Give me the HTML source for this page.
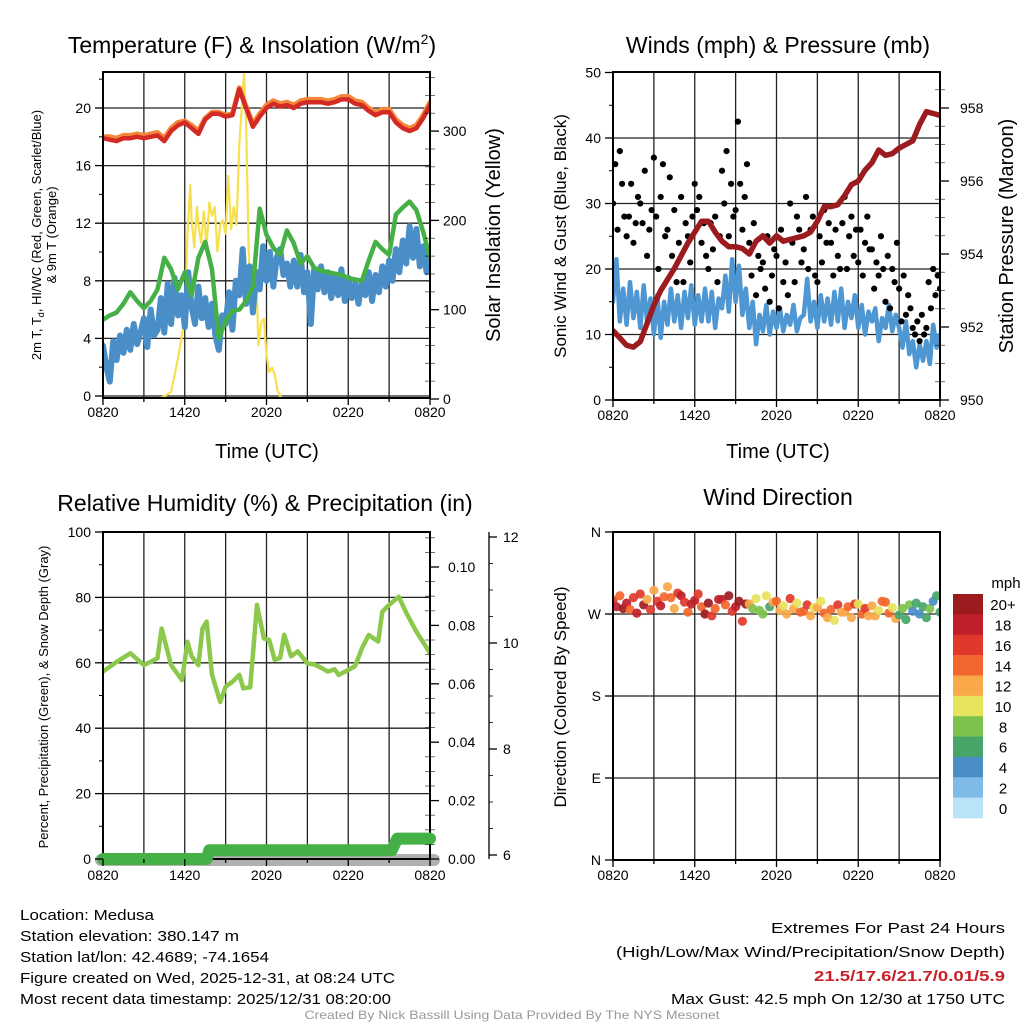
<!DOCTYPE html>
<html><head><meta charset="utf-8"><style>
html,body{margin:0;padding:0;background:#fff}
svg{display:block;font-family:"Liberation Sans",sans-serif}
</style></head><body>
<svg id="c" width="1024" height="1024" viewBox="0 0 1024 1024" xmlns="http://www.w3.org/2000/svg"></svg>
<script>
// ---------- data ----------
const xTickLabels = ["0820","1420","2020","0220","0820"];
// Panel 1 (30-min steps, hours 0..24)
const tempRed = [17.9,17.8,17.7,17.9,17.9,18.0,17.9,18.0,18.1,17.7,18.4,18.8,19.0,18.6,18.2,19.2,19.6,19.6,19.4,19.5,21.3,20.0,18.7,19.4,20.0,20.3,20.1,20.2,20.0,20.3,20.4,20.4,20.4,20.3,20.4,20.6,20.6,20.3,20.2,19.8,19.5,19.7,19.7,19.0,18.6,18.4,18.6,19.3,20.2];
const temp9m = [18.0,18.0,17.9,18.1,18.1,18.2,18.1,18.2,18.3,17.9,18.6,19.0,19.1,18.8,18.4,19.3,19.7,19.7,19.5,19.6,21.4,20.1,18.9,19.6,20.2,20.5,20.3,20.4,20.2,20.5,20.6,20.6,20.6,20.5,20.6,20.8,20.8,20.5,20.4,20.0,19.7,19.9,19.9,19.2,18.8,18.6,18.8,19.5,20.4];
const dewGreen = [5.3,5.6,5.8,6.4,7.2,6.6,6.1,6.6,7.4,9.6,8.8,7.4,8.6,7.0,9.6,10.7,8.8,4.0,5.2,5.9,6.0,6.6,7.6,13.0,11.2,10.3,9.8,11.5,10.6,9.2,9.7,8.9,8.7,8.6,8.5,8.4,8.2,8.1,8.0,9.4,10.7,10.2,9.8,12.6,13.1,13.5,12.9,11.4,9.6];
// 15-min steps
const windChill = [3.5,2.0,1.0,3.8, 2.5,4.2,3.0,4.6, 3.2,5.0,3.6,4.4, 5.4,3.4,6.0,4.2, 4.6,6.8,4.4,7.8, 5.0,8.2,5.6,7.0, 4.8,8.6,6.2,5.0, 7.6,5.4,6.8,4.8, 6.4,4.2,3.2,5.6, 5.0,7.2,4.6,8.0, 7.0,10.2,6.4,9.0, 5.8,8.6,7.4,10.4, 8.0,10.0,7.6,9.6, 10.2,8.4,9.2,7.6, 9.4,7.6,9.8,7.2, 8.6,5.0,8.8,7.4, 9.0,7.2,8.6,6.8, 8.4,7.0,8.8,6.6, 8.2,6.8,7.8,6.4, 8.0,7.0,8.6,6.6, 8.4,7.2,9.0,7.6, 9.4,8.0,10.2,8.6, 10.8,9.2,11.8,9.6, 11.6,9.0,10.4,8.6, 9.6];
const solarHours = [0,4,4.5,5,5.5,6,6.2,6.4,6.5,6.7,6.9,7,7.2,7.4,7.6,7.8,8,8.2,8.4,8.6,8.8,9,9.2,9.4,9.6,9.8,10,10.2,10.35,10.5,10.7,10.9,11,11.2,11.4,11.6,11.8,12,12.2,12.4,12.6,12.8,13,13.3,24];
const solarW = [0,0,3,8,45,90,185,240,200,170,215,195,175,210,170,220,205,215,165,195,200,185,250,190,215,195,285,330,365,310,160,95,105,175,60,85,90,50,30,35,28,10,3,0,0];
// Panel 2
const pressure = [951.9,951.7,951.5,951.45,951.6,952.1,952.6,953.0,953.3,953.6,953.95,954.3,954.6,954.9,954.9,954.6,954.35,954.2,954.2,954.15,954.0,954.35,954.5,954.3,954.5,954.35,954.4,954.45,954.5,954.6,954.9,955.3,955.3,955.35,955.6,955.9,956.0,956.3,956.5,956.85,956.7,956.75,956.9,957.0,957.1,957.55,957.9,957.85,957.8];
const windSpeed = [15,21.5,12,17, 11.5,18,12.5,16.5, 11,17.5,12,15.5, 10,16,9.5,15, 11.5,17,12,16, 11,16.5,12.5,17.5, 11.5,16,12,17, 12,16.5,11,15.5, 14,19,13.5,21.5, 15,20.5,13,17, 11,15,8.5,13, 10.5,14.5,10,13.5, 11,14,10.5,13, 11.5,14.5,10.5,12.5, 13,18.5,12,15, 11,16,12,15.5, 11.5,16.5,12,17, 11,15,12.5,16, 11,14.5,10,13.5, 12,14,9,12.5, 11,14.5,10.5,13, 11,8,12,7, 9,5,8.5,6, 9,5.5,11.5,8, 10];
// 10-min steps
const gusts = [30,36,26,38,33,28, 25,28,33,24,27,31, 30,27,35,22,26,29, 37,28,20,31,36,25, 26,34,22,29,18,24, 31,18,27,25,21,28, 33,29,31,24,27,22, 20,27,23,28,18,25, 35,30,38,25,33,28, 29,42.5,33,26,31,36, 24,19,27,16,22,20, 21,17,25,15,19,23, 22,14,26,18,21,16, 30,24,18,28,26,21, 23,31,20,26,28,19, 18,25,21,29,24,27, 24,19,26,22,20,27, 31,20,25,28,22,26, 21,26,19,24,28,23, 23,17,21,19,25,20, 15,22,14,20,18,24, 17,12,19,13,16,14, 11,10,12,9,13,10, 11,18,14,20,16,19, 17];
// Panel 3
const rhHours = [0,1,2,3,4,4.3,5,5.8,6.2,6.5,7,7.3,7.6,8,8.6,9,9.5,10,10.3,10.8,11.3,11.8,12.2,12.6,13,13.3,13.8,14.3,15,15.5,16,16.5,17,17.3,18,18.5,19,19.5,20.2,20.5,21,21.7,22.3,23,24];
const rhVals = [57.3,60.3,62.9,59.3,61.4,70.5,59.3,54.7,66.4,62,59.3,70.5,72.6,56.3,48,52.7,54.2,56.3,52.2,52.5,77.7,67.5,67,60.9,61.5,68.6,62,63.5,59.8,59.5,58.5,57.3,58,56.3,57.8,59,64.4,68.5,66.5,75.6,77.7,80.2,75,69.5,63];
const precipHours = [0,7.6,7.8,21.2,21.6,24];
const precipVals = [0,0,0.003,0.003,0.007,0.007];
const snowDepth = [5.9,5.9];
// Panel 4 (15-min steps)
const windDir = [285,278,290,276, 282,275,288,271, 292,280,286,275, 296,284,279,289, 300,288,276,293, 290,283,272,281, 285,292,278,270, 282,268,276,286, 286,280,290,273, 278,284,262,281, 281,276,287,274, 270,290,278,283, 284,274,279,270, 287,276,282,272, 273,280,268,277, 277,284,271,266, 275,263,280,272, 272,278,266,281, 281,270,276,268, 279,268,274,284, 283,271,277,265, 269,276,264,280, 273,282,270,278, 266,276,284,290, 272];
const dirSpeed = [17,19,15,20, 18,14,16,19, 17,20,13,16, 12,16,18,14, 13,15,12,17, 19,16,14,18, 18,17,15,21, 20,16,14,19, 18,15,20,17, 19,21,16,20, 12,9,10,8, 8,11,7,12, 14,12,10,13, 16,13,11,14, 15,17,12,10, 13,10,15,12, 14,11,16,13, 12,15,13,16, 11,14,16,12, 13,12,10,14, 14,15,11,12, 7,9,6,8, 5,7,4,6, 6,8,5,7, 7];
const cbLabels = ["20+","18","16","14","12","10","8","6","4","2","0"];
const cbColors = ["#9b1b1e","#c0202a","#e0392b","#f2662d","#f9a84a","#e6e35c","#7dc24c","#48a56a","#4a8ec8","#7fbbe6","#b8e3f8"];

// ---------- helpers ----------
const svg = document.getElementById('c');
const NS = "http://www.w3.org/2000/svg";
function mk(tag, attrs, parent){const e=document.createElementNS(NS,tag);for(const k in attrs)e.setAttribute(k,attrs[k]);(parent||svg).appendChild(e);return e;}
function txt(s, x, y, size, anchor, parent, extra){const e=mk('text',Object.assign({x:x,y:y,'font-size':size,'text-anchor':anchor||'middle',fill:'#000'},extra||{}),parent);e.textContent=s;return e;}
function linePath(xs, ys){return xs.map((x,i)=>(i?'L':'M')+x.toFixed(1)+','+ys[i].toFixed(1)).join('');}
function steps(n, step){const a=[];for(let i=0;i<n;i++)a.push(i*step);return a;}

function panel(id, L, R, T, B){
  const g = mk('g',{});
  
  
  const cp = mk('clipPath',{id:id+'-clip'},g); mk('rect',{x:L,y:T,width:R-L,height:B-T},cp);
  const xs = h => L + h*(R-L)/24;
  return {g, L, R, T, B, xs, clip:'url(#'+id+'-clip)'};
}
function grid(p, yVals, yFn){
  const gg = mk('g',{},p.g);
  
  
  for(let h=3;h<24;h+=3){mk('line',{x1:p.xs(h),x2:p.xs(h),y1:p.T,y2:p.B,stroke:'#222','stroke-width':1.3},gg);}
  yVals.forEach(v=>{const y=yFn(v);if(y>p.T+1&&y<p.B-1)mk('line',{x1:p.L,x2:p.R,y1:y,y2:y,stroke:'#222','stroke-width':1.3},gg);});
}
function frame(p){
  const f = mk('rect',{x:p.L,y:p.T,width:p.R-p.L,height:p.B-p.T,fill:'none',stroke:'#000','stroke-width':2},p.g);
  
  
}
function xAxis(p, labY){
  const ga = mk('g',{},p.g);
  
  
  for(let h=0;h<=24;h+=3){mk('line',{x1:p.xs(h),x2:p.xs(h),y1:p.B,y2:p.B+(h%6===0?7:4),stroke:'#000','stroke-width':1.3},ga);}
  xTickLabels.forEach((s,i)=>{const t=txt(s,p.xs(i*6),labY,14,'middle',ga);});
}
function leftAxis(p, majors, labels, yFn, minors){
  const ga = mk('g',{},p.g);
  
  
  (minors||[]).forEach(v=>{const y=yFn(v);mk('line',{x1:p.L-4,x2:p.L,y1:y,y2:y,stroke:'#000','stroke-width':1},ga);});
  majors.forEach((v,i)=>{const y=yFn(v);mk('line',{x1:p.L-8,x2:p.L,y1:y,y2:y,stroke:'#000','stroke-width':1.3},ga);
    const t=txt(labels[i],p.L-12,y+5,14,'end',ga);});
}
function rightAxis(p, majors, labels, yFn, minors, lx){
  const ga = mk('g',{},p.g);
  
  
  (minors||[]).forEach(v=>{const y=yFn(v);mk('line',{x1:p.R-5,x2:p.R+5,y1:y,y2:y,stroke:'#000','stroke-width':0.8,opacity:0.7},ga);});
  majors.forEach((v,i)=>{const y=yFn(v);mk('line',{x1:p.R,x2:p.R+9,y1:y,y2:y,stroke:'#000','stroke-width':1.3},ga);
    const t=txt(labels[i],lx,y+5,14,'start',ga);});
}
function series(p, name, xs, ys, color, w){
  const e = mk('path',{d:linePath(xs,ys),fill:'none',stroke:color,'stroke-width':w,'stroke-linejoin':'round','stroke-linecap':'round','clip-path':p.clip},p.g);
  
  
  return e;
}
function rotLabel(s, x, y, size, name){
  const t = txt(s,0,0,size,'middle',svg,{transform:'translate('+x+','+y+') rotate(-90)'});
  
  
  return t;
}
function title(s,x,y,size,name){const t=txt(s,x,y,size,'middle');return t;}

// ---------- Panel 1 ----------
{
  const p = panel('temperature-panel',103,430,72,398);
  const yT = v => 396 - v*14.4;
  const yS = w => 399 - w*0.893;
  grid(p,[0,4,8,12,16,20],yT);
  const h30 = steps(49,0.5), h15 = steps(97,0.25);
  series(p,'solar-insolation-line',solarHours.map(p.xs),solarW.map(yS),'#f7e04f',2.2);
  series(p,'wind-chill-line',h15.map(p.xs),windChill.map(yT),'#4a8ec8',6);
  series(p,'dewpoint-line',h30.map(p.xs),dewGreen.map(yT),'#45b045',4.5);
  series(p,'temp-9m-line',h30.map(p.xs),temp9m.map(yT),'#f5873a',5);
  series(p,'temp-2m-line',h30.map(p.xs),tempRed.map(yT),'#d42a25',4.5);
  frame(p); xAxis(p,417);
  leftAxis(p,[0,4,8,12,16,20],["0","4","8","12","16","20"],yT,[2,6,10,14,18,22]);
  const mn=[];for(let w=20;w<=360;w+=20)if(w%100)mn.push(w);
  rightAxis(p,[0,100,200,300],["0","100","200","300"],yS,mn,443);
  const t=title('Temperature (F) & Insolation (W/m',252,53,23,'temperature-title');
  const sup=mk('tspan',{dy:-9,'font-size':14},t);sup.textContent='2';
  const cl=mk('tspan',{dy:9},t);cl.textContent=')';
  title('Time (UTC)',267,458,20,'x-axis-title');
  const l1=rotLabel('',41,235,13,'left-y-axis-title');
  l1.innerHTML='2m T, T<tspan font-size="9" dy="3">d</tspan><tspan dy="-3">, HI/WC (Red, Green, Scarlet/Blue)</tspan>';
  rotLabel('& 9m T (Orange)',56,235,13,'left-y-axis-title-line2');
  rotLabel('Solar Insolation (Yellow)',500,235,20,'right-y-axis-title');
}
// ---------- Panel 2 ----------
{
  const p = panel('winds-panel',613,940,72,400);
  const yW = v => 400 - v*6.55;
  const yP = v => 400 - (v-950)*36.5;
  grid(p,[0,10,20,30,40],yW);
  const h30=steps(49,0.5), h15=steps(97,0.25), h10=steps(145,1/6);
  series(p,'wind-speed-line',h15.map(p.xs),windSpeed.map(yW),'#4f97d2',4.5);
  const gd = mk('g',{'clip-path':p.clip},p.g);
  
  
  gusts.forEach((v,i)=>{const c=mk('circle',{cx:p.xs(h10[i]),cy:yW(v),r:3.1,fill:'#000'},gd);
    
    });
  series(p,'pressure-line',h30.map(p.xs),pressure.map(yP),'#9b1b1e',5.5);
  frame(p); xAxis(p,420);
  leftAxis(p,[0,10,20,30,40,50],["0","10","20","30","40","50"],yW,[5,15,25,35,45]);
  const mn=[];for(let v=950.5;v<959;v+=0.5)if(v%2)mn.push(v);
  rightAxis(p,[950,952,954,956,958],["950","952","954","956","958"],yP,mn,960);
  title('Winds (mph) & Pressure (mb)',778,53,23,'winds-title');
  title('Time (UTC)',778,458,20,'x-axis-title-winds');
  rotLabel('Sonic Wind & Gust (Blue, Black)',566,236,17,'wind-y-axis-title');
  rotLabel('Station Pressure (Maroon)',1013,236,20,'pressure-y-axis-title');
}
// ---------- Panel 3 ----------
{
  const p = panel('humidity-panel',103,430,532,859);
  const yR = v => 859 - v*3.27;
  const yPr = v => 859 - v*2920;
  const ySD = v => 855 - (v-6)*53;
  grid(p,[0,20,40,60,80],yR);
  const sd = mk('path',{d:linePath([p.L-2,p.R+4],snowDepth.map(v=>860+(v-5.9)*53)),stroke:'#b0b0b0','stroke-width':12,'stroke-linecap':'round',fill:'none'},p.g);
  
  
  series(p,'relative-humidity-line',rhHours.map(p.xs),rhVals.map(yR),'#8cc84b',4.5);
  frame(p);
  const pr = mk('path',{d:linePath(precipHours.map(p.xs),precipVals.map(yPr)),stroke:'#45b045','stroke-width':12,'stroke-linecap':'round','stroke-linejoin':'round',fill:'none'},p.g);
  
  
  xAxis(p,880);
  leftAxis(p,[0,20,40,60,80,100],["0","20","40","60","80","100"],yR,[10,30,50,70,90]);
  const mn=[];for(let v=0.005;v<0.111;v+=0.005)if(Math.round(v*1000)%20)mn.push(v);
  rightAxis(p,[0,0.02,0.04,0.06,0.08,0.10],["0.00","0.02","0.04","0.06","0.08","0.10"],yPr,mn,448);
  const go = mk('g',{},p.g);
  
  
  mk('line',{x1:489,x2:489,y1:532,y2:859,stroke:'#000','stroke-width':1.3},go);
  for(let v=6;v<=12.01;v+=0.5){const y=ySD(v);const maj=Math.abs(v%2)<0.01;
    mk('line',{x1:489,x2:maj?497:493,y1:y,y2:y,stroke:'#000','stroke-width':maj?1.3:0.8},go);
    if(maj){const t=txt(String(v),503,y+5,14,'start',go);}}
  title('Relative Humidity (%) & Precipitation (in)',265,511,23,'humidity-title');
  rotLabel('Percent, Precipitation (Green), & Snow Depth (Gray)',48,697,13,'humidity-y-axis-title');
}
// ---------- Panel 4 ----------
{
  const p = panel('wind-direction-panel',613,940,532,860);
  const yD = d => 860 - d*0.9111;
  grid(p,[0,90,180,270,360],yD);
  const h15=steps(97,0.25);
  const colorFor = s => cbColors[Math.max(0,Math.min(10,10-Math.floor(s/2)))];
  const gd = mk('g',{'clip-path':p.clip},p.g);
  
  
  windDir.forEach((d,i)=>{const c=mk('circle',{cx:p.xs(h15[i]),cy:yD(d),r:4.6,fill:colorFor(dirSpeed[i]),opacity:0.92},gd);
    
    });
  frame(p); xAxis(p,880);
  leftAxis(p,[0,90,180,270,360],["N","E","S","W","N"],yD,[]);
  title('Wind Direction',778,505,23,'wind-direction-title');
  rotLabel('Direction (Colored By Speed)',566,697,17,'direction-y-axis-title');
  const cb = mk('g',{});
  
  
  const bh = (818-594)/11;
  cbColors.forEach((c,i)=>{mk('rect',{x:953,y:594+i*bh,width:30,height:bh+0.3,fill:c},cb);
    const t=txt(cbLabels[i],1003,594+i*bh+bh/2+6,15,'middle',cb);});
  const u=txt('mph',1006,588,15,'middle',cb);
}
// ---------- footer ----------
{
  const f = mk('g',{});
  
  
  const left = [["Location: Medusa",920,134],["Station elevation: 380.147 m",941,219],["Station lat/lon: 42.4689; -74.1654",962,249],["Figure created on Wed, 2025-12-31, at 08:24 UTC",983,375],["Most recent data timestamp: 2025/12/31 08:20:00",1004,371]];
  left.forEach(a=>{const t=txt(a[0],20,a[1],15,'start',f,{textLength:a[2],lengthAdjust:'spacingAndGlyphs'});});
  const right = [["Extremes For Past 24 Hours",933,234,'#000','normal'],["(High/Low/Max Wind/Precipitation/Snow Depth)",957,389,'#000','normal'],["21.5/17.6/21.7/0.01/5.9",981,191,'#c8202a','bold'],["Max Gust: 42.5 mph On 12/30 at 1750 UTC",1004,334,'#000','normal']];
  right.forEach(a=>{const t=txt(a[0],1005,a[1],15,'end',f,{textLength:a[2],lengthAdjust:'spacingAndGlyphs',fill:a[3],'font-weight':a[4]});});
  const c=txt('Created By Nick Bassill Using Data Provided By The NYS Mesonet',512,1019,12,'middle',f,{fill:'#999',textLength:415,lengthAdjust:'spacingAndGlyphs'});
  
  
}
</script>
</body></html>
